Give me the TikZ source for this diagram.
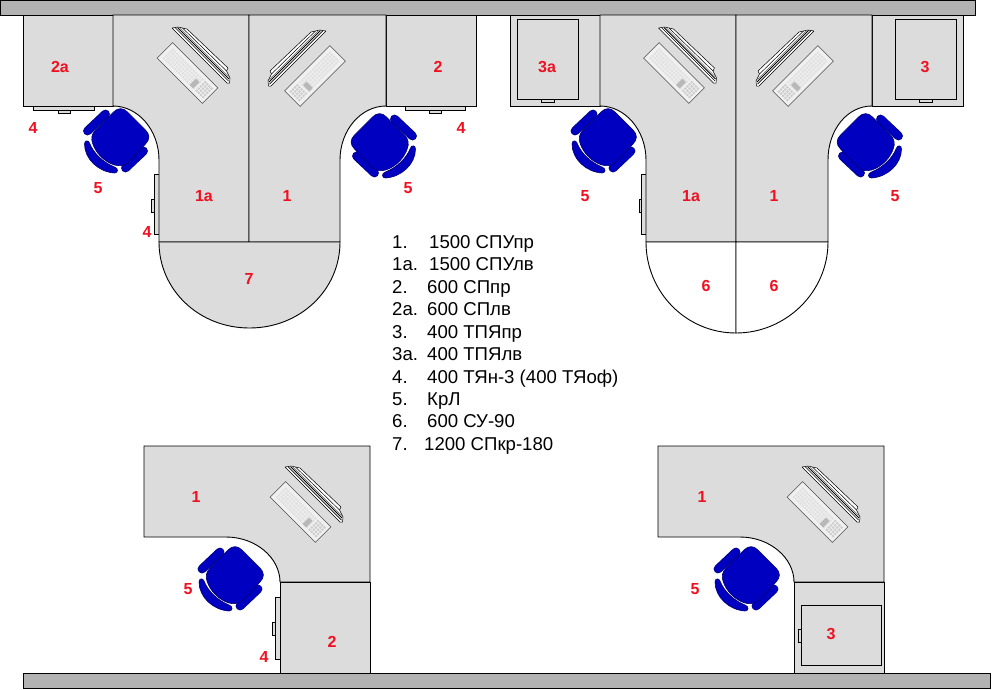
\documentclass[tikz,border=0pt]{standalone}
\usepackage{fontspec}
\setmainfont{Liberation Sans}
\definecolor{deskgray}{HTML}{DCDCDC}
\definecolor{wallgray}{HTML}{B2B2B2}
\definecolor{chairblue}{HTML}{0000C0}
\definecolor{chairedge}{HTML}{000070}
\definecolor{lblred}{HTML}{F01020}
\tikzset{
  desk/.style={draw=black,fill=deskgray,line width=0.9pt,line join=miter},
  wallbar/.style={draw=black,fill=wallgray,line width=0.9pt},
  pedestal/.style={draw=black,fill=deskgray,line width=0.6pt},
  openpart/.style={draw=black,fill=white,line width=0.9pt},
  lbl/.style={text=lblred,font=\bfseries\fontsize{16}{16}\selectfont,inner sep=0pt},
  listitem/.style={anchor=base west,font=\fontsize{18.6}{18.6}\selectfont,inner sep=0pt},
  chairpart/.style={draw=chairedge,fill=chairblue,line width=0.6pt},
  pics/chairseat/.style={code={
    \draw[chairedge,line width=8.8pt,line cap=round] (-33,-6) -- (-15,-23);
    \draw[chairblue,line width=7.6pt,line cap=round] (-33,-6) -- (-15,-23);
    \draw[chairedge,line width=8.8pt,line cap=round] (5,31) -- (23,14);
    \draw[chairblue,line width=7.6pt,line cap=round] (5,31) -- (23,14);
    \draw[chairpart,line join=round] (-36,7) .. controls (-36,3) and (-32,3) .. (-31,6)
       .. controls (-27,16) and (-18,25) .. (-6,30)
       .. controls (-2,31) and (-2,36) .. (-6,36)
       .. controls (-22,35) and (-36,22) .. (-36,7) -- cycle;
    \draw[chairpart] (7,-25) -- (25,-7) .. controls (29.5,-2.5) and (29.5,2.5) .. (25,7)
       -- (8,25) .. controls (3,29.5) and (-2,29) .. (-6,28)
       .. controls (-16,25) and (-25,16) .. (-28,6)
       .. controls (-29.5,2) and (-29,-3) .. (-25,-7)
       -- (-7,-25) .. controls (-2.5,-29.5) and (2.5,-29.5) .. (7,-25) -- cycle;
  }},
  pics/workstation/.style={code={
    \begin{scope}[xshift=#1]
      \draw[draw=black,fill=white,line width=0.5pt,line join=round] (-15.5,-45) -- (-9.5,-46) -- (-0.5,-44) -- (40.5,-5) -- (39,-2) -- (42.5,5) -- (42,10) -- (39.5,10) -- cycle;
      \draw[black,line width=0.7pt] (-12.5,-45.5) -- (41,8);
      \draw[black,line width=0.8pt] (-10,-45.5) -- (41.5,6);
      \draw[black!55,line width=0.7pt] (-7.5,-45) -- (41,3.5);
      \draw[black,line width=0.5pt] (-5,-45) -- (39,-2);
    \end{scope}
    \begin{scope}[rotate=-45]
      \draw[draw=black!70,fill=black!6,line width=0.6pt] (-32,-11) rectangle (32,11);
      \foreach \u in {-28,-25,...,14}
        \foreach \v in {-6,-3,0,3,6}
          \fill[black!12] (\u,\v-1) rectangle +(2.1,2);
      \foreach \u in {18,21,24,27}
        \foreach \v in {-6,-3,0,3,6}
          \fill[black!20] (\u,\v-1) rectangle +(2.1,2);
      \fill[black!28] (10,-2) rectangle (15,7);
    \end{scope}
  }},
  pics/workstation/.default=0pt
}
\begin{document}
\begin{tikzpicture}[x=1pt,y=-1pt]
\useasboundingbox (0,0) rectangle (1002,689);
\fill[white] (0,0) rectangle (1002,689);
% walls
\draw[wallbar] (0,0) rectangle (975,15);
\draw[wallbar] (23,673) rectangle (990,688);

% ===== top left group
\draw[pedestal] (33,106) rectangle (94,110);
\draw[pedestal] (58,110) rectangle (70,113);
\draw[pedestal] (405,106) rectangle (465,110);
\draw[pedestal] (429,110) rectangle (441,113);
\draw[pedestal] (154,174) rectangle (159,234);
\draw[pedestal] (151,199) rectangle (154,212);
\draw[desk] (23,15) rectangle (113,106);
\draw[desk] (386,15) rectangle (476,106);
\draw[desk] (113,15) -- (249,15) -- (249,242) -- (159,242) -- (159,160) .. controls (159,130) and (138,106) .. (113,106) -- cycle;
\draw[desk] (386,15) -- (249,15) -- (249,242) -- (340,242) -- (340,160) .. controls (340,130) and (361,106) .. (386,106) -- cycle;
\draw[desk] (159,242) .. controls (159,290) and (199,328) .. (249.5,328) .. controls (300,328) and (340,290) .. (340,242) -- cycle;
\pic at (187.5,73) {workstation};
\pic[xscale=-1] at (315,76) {workstation=4.5pt};
\pic at (120.5,137) {chairseat};
\pic[xscale=-1] at (379.5,142) {chairseat};

% ===== top right group
\draw[desk] (510,15) rectangle (600,106);
\draw[desk] (517,19) rectangle (578,99);
\draw[pedestal] (541,99) rectangle (554,102);
\draw[desk] (872,15) rectangle (963,106);
\draw[desk] (895,19) rectangle (956,99);
\draw[pedestal] (919,99) rectangle (932,102);
\draw[pedestal] (641,174) rectangle (646,234);
\draw[pedestal] (639,199) rectangle (641,212);
\draw[desk] (600,15) -- (736,15) -- (736,242) -- (646,242) -- (646,160) .. controls (646,130) and (625,106) .. (600,106) -- cycle;
\draw[desk] (872,15) -- (736,15) -- (736,242) -- (828,242) -- (828,160) .. controls (828,130) and (847,106) .. (872,106) -- cycle;
\draw[openpart] (646,242) .. controls (646,292) and (686,333) .. (736,333) -- (736,242) -- cycle;
\draw[openpart] (828,242) .. controls (828,292) and (786,333) .. (736,333) -- (736,242) -- cycle;
\pic at (674,73) {workstation};
\pic[xscale=-1] at (803,76) {workstation=4.5pt};
\pic at (608,137) {chairseat};
\pic[xscale=-1] at (865.5,142) {chairseat};

% ===== bottom left group
\draw[pedestal] (275,597) rectangle (280,659);
\draw[pedestal] (272,622) rectangle (275,635);
\draw[desk] (144,446) -- (370,446) -- (370,582) -- (280,582) .. controls (280,558) and (256,537) .. (226,537) -- (144,537) -- cycle;
\draw[desk] (280,582) rectangle (370,673);
\pic at (300.5,512) {workstation};
\pic at (235,575) {chairseat};

% ===== bottom right group
\draw[desk] (658,446) -- (884,446) -- (884,582) -- (794,582) .. controls (794,558) and (770,537) .. (740,537) -- (658,537) -- cycle;
\draw[desk] (794,582) rectangle (884,673);
\draw[desk] (801,605) rectangle (881,665);
\draw[pedestal] (798,629) rectangle (801,642);
\pic at (817.5,512) {workstation};
\pic at (751,575) {chairseat};

% ===== red labels
\node[lbl] (l2a) at (60,67) {2а};
\node[lbl] (l2) at (438,67) {2};
\node[lbl] (l4a) at (33,128) {4};
\node[lbl] (l4b) at (461,128) {4};
\node[lbl] (l5a) at (98,188) {5};
\node[lbl] (l5b) at (408,188) {5};
\node[lbl] (l1a) at (204,196) {1а};
\node[lbl] (l1) at (287,196) {1};
\node[lbl] (l4c) at (147,232) {4};
\node[lbl] (l7) at (249,279) {7};
\node[lbl] (r3a) at (547,67) {3а};
\node[lbl] (r3) at (925,67) {3};
\node[lbl] (r5a) at (585,196) {5};
\node[lbl] (r1a) at (691,196) {1а};
\node[lbl] (r1) at (774,196) {1};
\node[lbl] (r5b) at (895,196) {5};
\node[lbl] (r6a) at (706,286) {6};
\node[lbl] (r6b) at (774,286) {6};
\node[lbl] (b1) at (196,497) {1};
\node[lbl] (b5) at (188,589) {5};
\node[lbl] (b2) at (332,642) {2};
\node[lbl] (b4) at (264,657) {4};
\node[lbl] (c1) at (702,497) {1};
\node[lbl] (c5) at (695,589) {5};
\node[lbl] (c3) at (831,634) {3};

% ===== list
\node[listitem] (n1) at (392,248) {1.};
\node[listitem] (t1) at (429,248) {1500 СПУпр};
\node[listitem] (n1a) at (392,270.7) {1а.};
\node[listitem] (t1a) at (429,270.7) {1500 СПУлв};
\node[listitem] (n2) at (392,293) {2.};
\node[listitem] (t2) at (427,293) {600 СПпр};
\node[listitem] (n2a) at (392,315.5) {2а.};
\node[listitem] (t2a) at (427,315.5) {600 СПлв};
\node[listitem] (n3) at (392,338) {3.};
\node[listitem] (t3) at (427,338) {400 ТПЯпр};
\node[listitem] (n3a) at (392,360.5) {3а.};
\node[listitem] (t3a) at (427,360.5) {400 ТПЯлв};
\node[listitem] (n4) at (392,383) {4.};
\node[listitem] (t4) at (427,383) {400 ТЯн-3 (400 ТЯоф)};
\node[listitem] (n5) at (392,405) {5.};
\node[listitem] (t5) at (427,405) {КрЛ};
\node[listitem] (n6) at (392,427) {6.};
\node[listitem] (t6) at (427,427) {600 СУ-90};
\node[listitem] (n7) at (392,450) {7.};
\node[listitem] (t7) at (424,450) {1200 СПкр-180};
\end{tikzpicture}
\end{document}
